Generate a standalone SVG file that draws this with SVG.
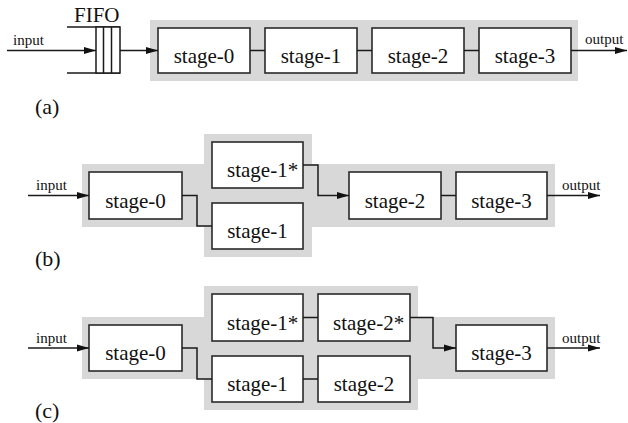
<svg xmlns="http://www.w3.org/2000/svg" width="628" height="423" viewBox="0 0 628 423">
<style>
.bg{fill:#d8d8d8;stroke:none}
.box{fill:#fff;stroke:#2a2a2a;stroke-width:1.6}
.ln{fill:none;stroke:#1a1a1a;stroke-width:1.5}
.t{font-family:"Liberation Serif","Times New Roman",serif;font-size:21px;fill:#111;text-anchor:middle}
.ts{font-family:"Liberation Serif","Times New Roman",serif;font-size:21px;fill:#111}
.io{font-family:"Liberation Serif","Times New Roman",serif;font-size:15px;fill:#111}
.lab{font-family:"Liberation Serif","Times New Roman",serif;font-size:22px;fill:#111}
</style>
<defs>
<marker id="ar" markerUnits="userSpaceOnUse" markerWidth="13" markerHeight="8" refX="12" refY="4" orient="auto">
<path d="M0,0.5 L12,4 L0,7.5 Z" fill="#111"/>
</marker>
</defs>
<rect width="628" height="423" fill="#fff"/>

<!-- backgrounds -->
<rect class="bg" x="150" y="20" width="428" height="61"/>
<path class="bg" d="M82,164 H204 V134 H312 V164 H555 V227 H312 V257 H204 V227 H82 Z"/>
<path class="bg" d="M82,317 H204 V286 H418 V317 H555 V379 H418 V410 H204 V379 H82 Z"/>

<!-- panel (a) -->
<g id="a-fifo">
<text class="lab" x="74" y="22" style="font-size:21px">FIFO</text>
<path class="ln" d="M67,27 H120 M67,73 H120"/>
<rect x="96" y="27" width="24" height="46" fill="#fff" stroke="#1a1a1a" stroke-width="1.5"/>
<path class="ln" d="M103.5,27 V73 M111.5,27 V73"/>
</g>
<g id="a-stage0"><rect class="box" x="158" y="28" width="92" height="45"/><text class="t" x="204" y="63">stage-0</text></g>
<g id="a-stage1"><rect class="box" x="265" y="28" width="92" height="45"/><text class="t" x="311" y="63">stage-1</text></g>
<g id="a-stage2"><rect class="box" x="372" y="28" width="92" height="45"/><text class="t" x="418" y="63">stage-2</text></g>
<g id="a-stage3"><rect class="box" x="479" y="28" width="92" height="45"/><text class="t" x="525" y="63">stage-3</text></g>
<text class="io" x="13" y="45">input</text>
<text class="io" x="585" y="44">output</text>
<text class="lab" x="35" y="114">(a)</text>

<!-- panel (b) -->
<g id="b-stage0"><rect class="box" x="89" y="172" width="93" height="47"/><text class="t" x="135.5" y="207.5">stage-0</text></g>
<g id="b-stage1s"><rect class="box" x="212" y="142" width="91" height="46"/><text class="ts" x="227" y="177">stage-1*</text></g>
<g id="b-stage1"><rect class="box" x="212" y="203" width="91" height="46"/><text class="t" x="257.5" y="238">stage-1</text></g>
<g id="b-stage2"><rect class="box" x="349" y="172" width="92" height="47"/><text class="t" x="395" y="207.5">stage-2</text></g>
<g id="b-stage3"><rect class="box" x="456" y="172" width="91" height="47"/><text class="t" x="501.5" y="207.5">stage-3</text></g>
<text class="io" x="36" y="190">input</text>
<text class="io" x="562" y="190">output</text>
<text class="lab" x="35" y="266">(b)</text>

<!-- panel (c) -->
<g id="c-stage0"><rect class="box" x="89" y="325" width="93" height="46"/><text class="t" x="135.5" y="360">stage-0</text></g>
<g id="c-stage1s"><rect class="box" x="212" y="294" width="91" height="47"/><text class="ts" x="227" y="329.5">stage-1*</text></g>
<g id="c-stage1"><rect class="box" x="212" y="356" width="91" height="46"/><text class="t" x="257.5" y="391">stage-1</text></g>
<g id="c-stage2s"><rect class="box" x="318" y="294" width="92" height="47"/><text class="ts" x="333" y="329.5">stage-2*</text></g>
<g id="c-stage2"><rect class="box" x="318" y="356" width="92" height="46"/><text class="t" x="364" y="391">stage-2</text></g>
<g id="c-stage3"><rect class="box" x="456" y="325" width="91" height="46"/><text class="t" x="501.5" y="360">stage-3</text></g>
<text class="io" x="36" y="343">input</text>
<text class="io" x="562" y="343">output</text>
<text class="lab" x="35" y="418">(c)</text>

<!-- connectors -->
<g id="connectors">
<path class="ln" d="M7,50.5 H96" marker-end="url(#ar)"/>
<path class="ln" d="M120,50.5 H158" marker-end="url(#ar)"/>
<path class="ln" d="M250,50.5 H265 M357,50.5 H372 M464,50.5 H479"/>
<path class="ln" d="M571,50.5 H627" marker-end="url(#ar)"/>

<path class="ln" d="M28,195.5 H89" marker-end="url(#ar)"/>
<path class="ln" d="M182,195.5 H197 V226 H212"/>
<path class="ln" d="M303,165 H318 V195.5 H349" marker-end="url(#ar)"/>
<path class="ln" d="M441,195.5 H456"/>
<path class="ln" d="M547,195.5 H600" marker-end="url(#ar)"/>

<path class="ln" d="M28,348 H89" marker-end="url(#ar)"/>
<path class="ln" d="M182,348 H197 V379 H212"/>
<path class="ln" d="M303,317.5 H318 M303,379 H318"/>
<path class="ln" d="M410,317.5 H433 V348 H456" marker-end="url(#ar)"/>
<path class="ln" d="M547,348 H600" marker-end="url(#ar)"/>
</g>
</svg>
